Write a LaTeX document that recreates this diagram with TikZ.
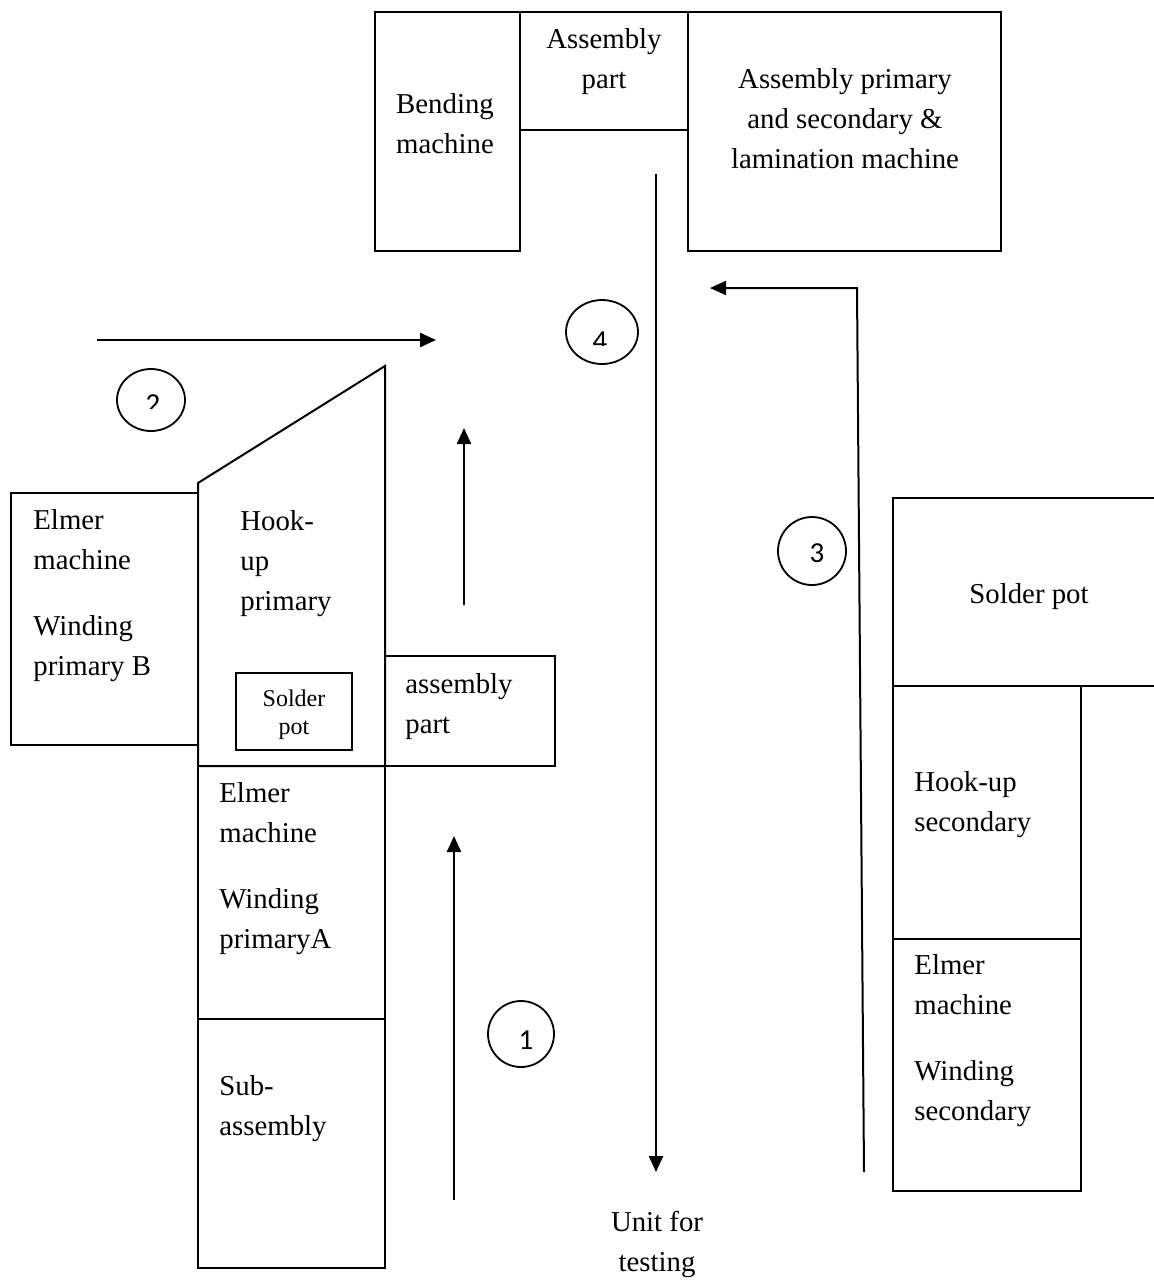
\documentclass[tikz,border=0pt]{standalone}
\usepackage{fontspec}
\setmainfont{Liberation Serif}
\newfontfamily\numfont{Carlito}
\usetikzlibrary{arrows.meta}
\tikzset{
	lbl/.style={anchor=base west,align=left,inner sep=0pt,font=\fontsize{14.4}{20}\selectfont},
	clbl/.style={lbl,anchor=base,align=center},
	smalllbl/.style={clbl,font=\fontsize{12}{14}\selectfont},
	num/.style={inner sep=0pt,font=\numfont\fontsize{14.5}{16}\selectfont},
	wall/.style={line width=1pt},
	ring/.style={line width=0.9pt},
	flow/.style={line width=1.2pt,-{Triangle[length=8pt,width=7pt]}},
}
\begin{document}
\begin{tikzpicture}[x=0.5pt,y=-0.5pt]
	\useasboundingbox (0,0) rectangle (1154,1282);
	% top row of machines (labels sit on their last baseline)
	\draw[wall] (375,12) rectangle (520,251);
	\draw[wall] (520,12) rectangle (688,130);
	\draw[wall] (688,12) rectangle (1001,251);
	\node[clbl] (bend) at (445,153) {Bending\\machine};
	\node[clbl] (asmtop) at (604,88) {Assembly\\part};
	\node[clbl] (asmprim) at (845,168) {Assembly primary\\and secondary \&\\lamination machine};
	% left block
	\draw[wall] (11,493) rectangle (198,745);
	\draw[wall] (198,766) -- (198,483) -- (385,366) -- (385,766) -- cycle;
	\draw[wall] (236,673) rectangle (352,750);
	\draw[wall] (385,656) rectangle (555,766);
	\draw[wall] (198,766) rectangle (385,1019);
	\draw[wall] (198,1019) rectangle (385,1268);
	\node[lbl] (elmerB) at (33,675) {Elmer\\machine\\[13pt]Winding\\primary B};
	\node[lbl] (hookprim) at (240,610) {Hook-\\up\\primary};
	\node[smalllbl] (potsmall) at (294,734) {Solder\\pot};
	\node[lbl] (asmpart) at (405,733) {assembly\\part};
	\node[lbl] (elmerA) at (219,948) {Elmer\\machine\\[13pt]Winding\\primaryA};
	\node[lbl] (subasm) at (219,1135) {Sub-\\assembly};
	% right block
	\draw[wall] (1154,498) -- (893,498) -- (893,686) -- (1154,686);
	\draw[wall] (893,686) rectangle (1081,939);
	\draw[wall] (893,939) rectangle (1081,1191);
	\node[clbl] (potbig) at (1029,603) {Solder pot};
	\node[lbl] (hooksec) at (914,831) {Hook-up\\secondary};
	\node[lbl] (elmerS) at (914,1120) {Elmer\\machine\\[13pt]Winding\\secondary};
	\node[clbl] (unit) at (657,1271) {Unit for\\testing};
	% flow arrows
	\coordinate (a1s) at (454,1200);
	\coordinate (a1e) at (454,836);
	\coordinate (a1t) at (464,605);
	\coordinate (a1f) at (464,428);
	\coordinate (a2s) at (97,340);
	\coordinate (a2e) at (436,340);
	\coordinate (a3s) at (864,1172);
	\coordinate (a3k) at (857,288);
	\coordinate (a3e) at (710,288);
	\coordinate (a4s) at (656,174);
	\coordinate (a4e) at (656,1172);
	\draw[flow] (a1s) -- (a1e);
	\draw[flow] (a1t) -- (a1f);
	\draw[flow] (a2s) -- (a2e);
	\draw[flow,line width=1pt] (a3s) -- (a3k) -- (a3e);
	\draw[flow] (a4s) -- (a4e);
	% step numbers
	\draw[ring] (521,1034) circle[radius=33];
	\node[num] (n1) at (526,1040) {1};
	\draw[ring] (151,400) ellipse[x radius=34,y radius=31];
	\begin{scope}
		\clip (110,360) rectangle (195,408);
		\node[num] (n2) at (153,404) {2};
	\end{scope}
	\draw[ring] (812,551) circle[radius=34];
	\node[num] (n3) at (817,553) {3};
	\draw[ring] (602,332) ellipse[x radius=36,y radius=32];
	\begin{scope}
		\clip (560,300) rectangle (645,345);
		\node[num] (n4) at (600,341) {4};
	\end{scope}
\end{tikzpicture}
\end{document}
